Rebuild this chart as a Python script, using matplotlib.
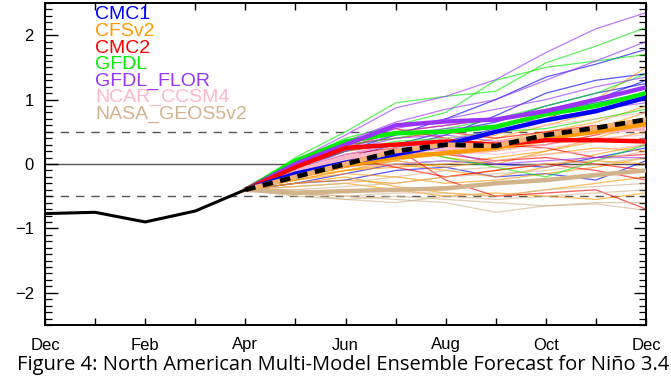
import numpy as np
import matplotlib.pyplot as plt

# months from Dec to Dec
month_labels = ['Dec', 'Feb', 'Apr', 'Jun', 'Aug', 'Oct', 'Dec']
n_months = 13

# observed Nino 3.4 (Dec..Apr)
obs = [-0.77, -0.75, -0.90, -0.73, -0.40]

# forecast members, values for May..Dec (start from last observation)
cfsv2_members = [
    [-0.20, 0.00, 0.15, 0.30, 0.45, 0.70, 1.00, 1.50],
    [-0.15, 0.05, 0.20, 0.25, 0.40, 0.60, 0.80, 1.10],
    [-0.20, -0.05, 0.10, 0.15, 0.20, 0.35, 0.55, 0.80],
    [-0.25, -0.10, -0.05, 0.00, 0.10, 0.20, 0.35, 0.50],
    [-0.25, -0.15, -0.20, -0.30, -0.25, -0.15, -0.05, 0.10],
    [-0.30, -0.20, -0.35, -0.45, -0.50, -0.40, -0.30, -0.20],
    [-0.20, -0.10, 0.00, -0.10, -0.20, -0.05, 0.15, 0.30],
    [-0.30, -0.25, -0.30, -0.20, -0.10, 0.00, 0.05, 0.00],
    [-0.15, 0.10, 0.25, 0.10, 0.00, 0.20, 0.40, 0.65],
    [-0.25, -0.10, 0.05, 0.20, 0.35, 0.50, 0.65, 0.90],
    [-0.35, -0.30, -0.40, -0.50, -0.45, -0.50, -0.55, -0.45],
    [-0.20, -0.05, 0.05, -0.05, 0.05, 0.15, 0.25, 0.20],
]
cmc1_members = [
    [-0.10, 0.20, 0.45, 0.70, 1.00, 1.35, 1.55, 1.78],
    [-0.15, 0.05, 0.25, 0.45, 0.75, 1.10, 1.30, 1.40],
    [-0.20, -0.05, 0.10, 0.30, 0.50, 0.70, 1.00, 1.30],
    [-0.30, -0.25, -0.10, -0.05, -0.20, -0.15, -0.25, 0.05],
    [-0.30, -0.15, 0.00, 0.05, 0.00, -0.05, 0.10, 0.25],
    [-0.20, 0.00, 0.20, 0.35, 0.55, 0.80, 0.95, 1.10],
    [-0.15, 0.10, 0.30, 0.50, 0.65, 0.90, 1.10, 1.25],
]
cmc2_members = [
    [-0.05, 0.25, 0.50, 0.60, 0.70, 0.85, 1.00, 1.20],
    [-0.10, 0.15, 0.25, -0.25, -0.50, -0.45, -0.40, -0.70],
    [0.00, 0.30, 0.40, 0.50, 0.40, 0.50, 0.60, 0.55],
    [-0.10, 0.10, 0.20, 0.15, 0.05, 0.10, 0.00, -0.10],
    [0.00, 0.35, 0.55, 0.40, 0.25, 0.30, 0.45, 0.65],
    [-0.05, 0.20, 0.30, 0.30, 0.30, 0.25, 0.10, 0.15],
    [-0.15, 0.10, -0.05, -0.20, -0.10, 0.00, -0.10, -0.25],
]
gfdl_members = [
    [0.10, 0.50, 0.95, 1.05, 1.13, 1.57, 1.83, 2.12],
    [0.05, 0.40, 0.60, 0.80, 1.30, 1.50, 1.60, 1.70],
    [0.00, 0.30, 0.40, 0.55, 0.70, 0.90, 1.10, 1.40],
    [0.00, 0.25, 0.30, 0.10, -0.05, -0.20, 0.05, 0.30],
    [0.05, 0.35, 0.45, 0.50, 0.55, 0.75, 0.95, 1.00],
    [-0.05, 0.20, 0.35, 0.40, 0.50, 0.55, 0.70, 0.85],
]
flor_members = [
    [0.05, 0.45, 0.87, 1.05, 1.31, 1.73, 2.10, 2.35],
    [0.00, 0.35, 0.65, 0.85, 1.00, 1.30, 1.60, 1.90],
    [0.00, 0.30, 0.55, 0.70, 0.85, 1.00, 1.20, 1.35],
    [-0.05, 0.25, 0.45, 0.55, 0.60, 0.70, 0.85, 0.95],
    [-0.10, 0.15, 0.30, 0.20, 0.00, 0.05, 0.10, 0.10],
    [0.00, 0.30, 0.50, 0.60, 0.70, 0.80, 1.00, 1.20],
    [-0.05, 0.20, 0.40, 0.45, 0.35, 0.40, 0.50, 0.65],
]
ncar_members = [
    [-0.10, 0.10, 0.25, 0.30, 0.35, 0.45, 0.55, 0.60],
    [-0.05, 0.15, 0.30, 0.40, 0.50, 0.60, 0.70, 0.80],
    [-0.15, 0.00, 0.10, 0.15, 0.20, 0.30, 0.40, 0.45],
    [-0.10, 0.05, 0.15, 0.20, 0.15, 0.25, 0.35, 0.40],
    [-0.15, -0.05, 0.00, 0.05, 0.05, 0.15, 0.20, 0.30],
]
nasa_members = [
    [-0.45, -0.50, -0.55, -0.60, -0.75, -0.65, -0.60, -0.60],
    [-0.45, -0.55, -0.50, -0.55, -0.60, -0.65, -0.62, -0.72],
    [-0.40, -0.45, -0.40, -0.35, -0.30, -0.25, -0.20, -0.10],
    [-0.40, -0.35, -0.30, -0.20, -0.15, -0.10, 0.00, 0.10],
    [-0.45, -0.50, -0.45, -0.45, -0.50, -0.40, -0.35, -0.30],
    [-0.35, -0.30, -0.20, -0.10, -0.05, 0.00, 0.05, 0.20],
    [-0.50, -0.55, -0.60, -0.50, -0.55, -0.50, -0.45, -0.40],
]

# ensemble means (May..Dec)
cmc1_mean = [-0.15, 0.02, 0.15, 0.30, 0.50, 0.68, 0.82, 1.03]
cfsv2_mean = [-0.20, -0.02, 0.10, 0.17, 0.25, 0.40, 0.50, 0.62]
cmc2_mean = [-0.05, 0.25, 0.30, 0.35, 0.30, 0.37, 0.37, 0.35]
gfdl_mean = [0.05, 0.35, 0.48, 0.50, 0.58, 0.77, 0.90, 1.10]
flor_mean = [0.00, 0.30, 0.60, 0.66, 0.69, 0.82, 1.00, 1.19]
ncar_mean = [-0.10, 0.10, 0.20, 0.25, 0.30, 0.40, 0.50, 0.55]
nasa_mean = [-0.45, -0.42, -0.40, -0.38, -0.30, -0.25, -0.17, -0.10]
nmme_mean = [-0.20, 0.00, 0.20, 0.30, 0.28, 0.45, 0.56, 0.69]

model_names = ['CMC1', 'CFSv2', 'CMC2', 'GFDL', 'GFDL_FLOR', 'NCAR_CCSM4', 'NASA_GEOS5v2']
model_colors = ['#0000ff', '#ff9900', '#ff0000', '#00ee00', '#9933ff', '#ffb6c8', '#d2b48c']
members = [cmc1_members, cfsv2_members, cmc2_members, gfdl_members,
           flor_members, ncar_members, nasa_members]
means = [cmc1_mean, cfsv2_mean, cmc2_mean, gfdl_mean, flor_mean, ncar_mean, nasa_mean]

fx = np.arange(len(obs) - 1, n_months)


def with_start(vals):
    return [obs[-1]] + list(vals)


fig = plt.figure(figsize=(6.71, 3.78), dpi=100)
ax = fig.add_axes([45 / 671, 1 - 325 / 378, 601 / 671, 322 / 378])

ax.axhline(0, color='#555555', lw=1.0, zorder=1)
for h in (-0.5, 0.5):
    ax.axhline(h, color='#555555', lw=1.0, ls=(0, (6, 5)), zorder=1)

# thin member lines
for mem, c in zip(members, model_colors):
    for m in mem:
        ax.plot(fx, with_start(m), color=c, lw=0.9, alpha=0.65, zorder=2)

# thick ensemble means
draw_order = [5, 6, 1, 3, 4, 2, 0]
for i in draw_order:
    ax.plot(fx, with_start(means[i]), color=model_colors[i], lw=3.2,
            solid_capstyle='butt', zorder=3)

ax.plot(fx, with_start(nmme_mean), color='#f5b070', lw=3.4, zorder=4)
ax.plot(fx, with_start(nmme_mean), color='black', lw=3.4, ls=(0, (2.2, 1.6)), zorder=5)

ax.plot(np.arange(len(obs)), obs, color='black', lw=2.2, zorder=5)

# model names
for k, (name, c) in enumerate(zip(model_names, model_colors)):
    ax.text(0.083, 0.963 - k * 0.0515, name, color=c, fontsize=14,
            family='Liberation Sans', transform=ax.transAxes, va='center', ha='left')

ax.set_xlim(0, n_months - 1)
ax.set_ylim(-2.5, 2.5)
ax.set_xticks(np.arange(n_months))
ax.set_xticklabels([month_labels[i // 2] if i % 2 == 0 else '' for i in range(n_months)])
ax.set_yticks([-2, -1, 0, 1, 2])
ax.set_yticklabels(['\u22122', '\u22121', '0', '1', '2'])
ax.set_yticks(np.arange(-2.5, 2.51, 0.1), minor=True)
ax.tick_params(axis='both', direction='in', top=True, right=True, width=1.0,
               labelsize=12, colors='black')
ax.tick_params(axis='x', length=5, pad=9)
ax.tick_params(axis='y', which='major', length=9, pad=8)
ax.tick_params(axis='y', which='minor', length=5, width=0.9, direction='in', right=True)
ax.tick_params(axis='x', which='minor', bottom=False, top=False)
for lab in ax.get_xticklabels() + ax.get_yticklabels():
    lab.set_family('Liberation Sans')
for s in ax.spines.values():
    s.set_linewidth(1.4)

fig.text(343 / 671, 3 / 378, 'Figure 4: North American Multi-Model Ensemble Forecast for Ni\u00f1o 3.4',
         ha='center', va='bottom', fontsize=14.5, family='Open Sans')

fig.savefig('out.png', dpi=100)
